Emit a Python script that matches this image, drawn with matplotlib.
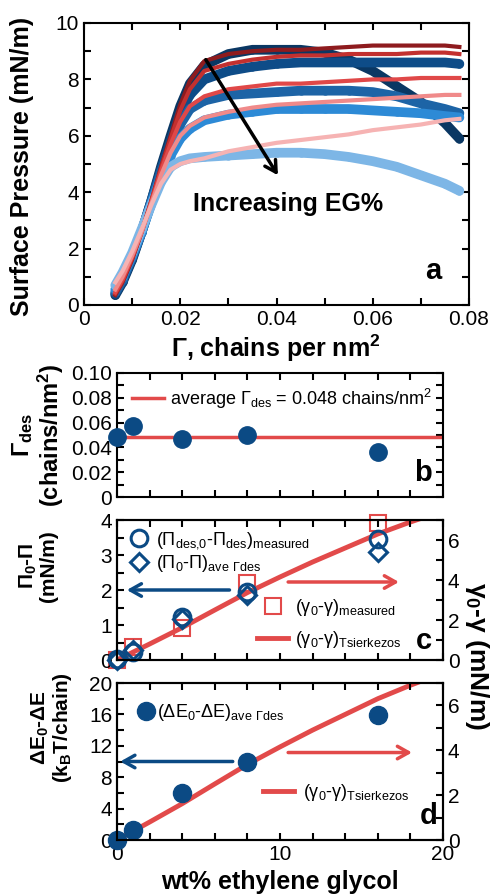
import matplotlib
matplotlib.use('Agg')
import matplotlib.pyplot as plt
from matplotlib.ticker import FixedLocator

plt.rcParams['font.family'] = ['Liberation Sans', 'DejaVu Sans']
plt.rcParams['mathtext.default'] = 'regular'
plt.rcParams['axes.linewidth'] = 1.5

# ---------------- Panel a data: surface pressure isotherms ----------------
gamma_x = [0.0065, 0.008, 0.010, 0.012, 0.014, 0.016, 0.018, 0.020, 0.022, 0.025,
           0.030, 0.035, 0.040, 0.045, 0.050, 0.055, 0.060, 0.065, 0.070, 0.075, 0.078]
blue1 = [0.35, 0.8, 1.6, 2.6, 3.7, 4.9, 6.0, 7.05, 7.85, 8.5, 8.9, 9.05, 9.05, 9.05, 8.95, 8.7, 8.3, 7.75, 7.2, 6.45, 5.9]
blue2 = [0.4, 0.85, 1.65, 2.6, 3.7, 4.8, 5.8, 6.8, 7.45, 8.0, 8.3, 8.45, 8.55, 8.6, 8.6, 8.6, 8.6, 8.6, 8.6, 8.6, 8.55]
blue3 = [0.45, 0.9, 1.7, 2.6, 3.65, 4.7, 5.6, 6.4, 6.95, 7.25, 7.45, 7.5, 7.55, 7.6, 7.6, 7.6, 7.55, 7.4, 7.15, 6.95, 6.8]
blue4 = [0.55, 1.0, 1.75, 2.6, 3.6, 4.55, 5.3, 5.9, 6.25, 6.55, 6.75, 6.85, 6.95, 6.95, 6.95, 6.95, 6.9, 6.85, 6.8, 6.7, 6.65]
blue5 = [0.7, 1.15, 1.85, 2.7, 3.55, 4.35, 4.9, 5.1, 5.2, 5.25, 5.3, 5.35, 5.4, 5.4, 5.35, 5.25, 5.1, 4.9, 4.6, 4.3, 4.05]
red1 = [0.35, 0.8, 1.6, 2.6, 3.7, 4.9, 6.0, 7.1, 7.95, 8.65, 8.9, 9.0, 9.05, 9.05, 9.1, 9.15, 9.2, 9.2, 9.2, 9.2, 9.15]
red2 = [0.4, 0.85, 1.65, 2.6, 3.7, 4.85, 5.9, 6.9, 7.65, 8.3, 8.55, 8.7, 8.8, 8.85, 8.85, 8.9, 8.9, 8.9, 8.95, 8.95, 8.9]
red3 = [0.45, 0.9, 1.7, 2.6, 3.65, 4.75, 5.7, 6.5, 7.05, 7.4, 7.65, 7.75, 7.85, 7.85, 7.9, 7.95, 8.0, 8.0, 8.05, 8.05, 8.05]
red4 = [0.55, 1.0, 1.75, 2.6, 3.6, 4.6, 5.4, 6.0, 6.35, 6.65, 6.85, 7.0, 7.1, 7.15, 7.2, 7.25, 7.3, 7.35, 7.4, 7.45, 7.45]
red5 = [0.8, 1.2, 1.9, 2.7, 3.55, 4.3, 4.8, 5.0, 5.1, 5.2, 5.45, 5.6, 5.75, 5.85, 5.95, 6.05, 6.2, 6.3, 6.4, 6.55, 6.6]

# ---------------- Panels b-d data ----------------
eg_wt = [0, 1, 4, 8, 16]
gamma_des = [0.048, 0.057, 0.047, 0.050, 0.036]
gamma_des_avg = 0.048
dpi_measured = [0.02, 0.22, 1.22, 1.93, 3.47]
dpi_ave = [0.0, 0.29, 1.16, 1.86, 3.09]
dgamma_measured = [0.0, 0.65, 1.6, 3.85, 6.85]
tsier_x = [0, 2, 4, 6, 8, 10, 12, 14, 16, 18, 20]
tsier_y = [0, 0.8, 1.62, 2.5, 3.37, 4.15, 4.9, 5.6, 6.3, 6.9, 7.45]
dE = [0.0, 1.3, 6.0, 10.0, 15.9]

NAVY = '#0b4a84'
RED = '#e24a4a'
blue_cols = ['#0a3763', '#0e4c88', '#1d64a6', '#2d8ad6', '#7db6e6']
red_cols = ['#8e1b1e', '#c3302f', '#e04848', '#f08a8a', '#f6b3b3']

W, H = 493, 896
fig = plt.figure(figsize=(W / 100, H / 100), dpi=100)


def rect(l, t, r, b):
    return [l / W, 1 - b / H, (r - l) / W, (b - t) / H]


TL = 15
tick_kw = dict(direction='in', length=5, width=1.5, labelsize=TL)
arrow_style = '->,head_length=0.8,head_width=0.45'

# ---------------- Panel a ----------------
axa = fig.add_axes(rect(84, 23, 469, 305))
for ys, c in zip([blue1, blue2, blue3, blue4, blue5], blue_cols):
    axa.plot(gamma_x, ys, color=c, lw=7, solid_capstyle='round', solid_joinstyle='round')
    axa.plot(gamma_x, ys, 'o', color=c, mfc='none', ms=5, mew=1)
for ys, c in zip([red1, red2, red3, red4, red5], red_cols):
    axa.plot(gamma_x, ys, color=c, lw=3)
axa.set_xlim(0, 0.08)
axa.set_ylim(0, 10)
xt = [0, 0.01, 0.02, 0.03, 0.04, 0.05, 0.06, 0.07, 0.08]
axa.xaxis.set_major_locator(FixedLocator(xt))
axa.set_xticklabels(['0', '', '0.02', '', '0.04', '', '0.06', '', '0.08'])
yt = list(range(11))
axa.yaxis.set_major_locator(FixedLocator(yt))
axa.set_yticklabels([str(v) if v % 2 == 0 else '' for v in yt])
axa.tick_params(top=True, right=True, **tick_kw)
axa.annotate('', xy=(0.0403, 4.6), xytext=(0.0253, 8.7),
             arrowprops=dict(arrowstyle=arrow_style, lw=2.5, color='black',
                             shrinkA=0, shrinkB=0))
axa.text(0.0226, 3.58, 'Increasing EG%', fontsize=18, fontweight='bold', ha='left', va='center')
axa.text(0.0726, 1.2, 'a', fontsize=21, fontweight='bold', ha='center', va='center')
fig.text(276 / W, 1 - 348 / H, 'Γ, chains per nm$^2$', fontsize=18, fontweight='bold',
         ha='center', va='center')
fig.text(22 / W, 1 - 166 / H, 'Surface Pressure (mN/m)', fontsize=18, fontweight='bold',
         ha='center', va='center', rotation=90)

# ---------------- Panel b ----------------
axb = fig.add_axes(rect(117, 373, 443, 497))
axb.axhline(gamma_des_avg, color=RED, lw=2.5,
            label='average Γ$_{des}$ = 0.048 chains/nm$^2$')
axb.plot(eg_wt, gamma_des, 'o', color=NAVY, ms=12.5, clip_on=False, zorder=3)
axb.set_xlim(0, 20)
axb.set_ylim(0, 0.10)
axb.xaxis.set_major_locator(FixedLocator(list(range(0, 21, 2))))
axb.set_xticklabels([])
ybt = [i / 100 for i in range(11)]
axb.yaxis.set_major_locator(FixedLocator(ybt))
axb.set_yticklabels(['0' if i == 0 else ('%.2f' % (i / 100) if i % 2 == 0 else '') for i in range(11)])
axb.tick_params(top=True, right=True, **tick_kw)
axb.legend(loc='upper left', bbox_to_anchor=(0.045, 0.89), frameon=False, fontsize=13,
           borderpad=0, borderaxespad=0, handlelength=1.8, handletextpad=0.3)
axb.text(18.8, 0.019, 'b', fontsize=21, fontweight='bold', ha='center', va='center')
fig.text(38 / W, 1 - 435 / H, 'Γ$_{des}$\n(chains/nm$^2$)', fontsize=17, fontweight='bold',
         ha='center', va='center', rotation=90, multialignment='center', linespacing=1.0)

# ---------------- Panel c ----------------
axc = fig.add_axes(rect(117, 520, 443, 660))
axc2 = axc.twinx()
axc.set_zorder(axc2.get_zorder() + 1)
axc.patch.set_visible(False)
axc2.plot(eg_wt, dgamma_measured, 's', color=RED, mfc='none', ms=11, mew=1.5, clip_on=False,
          label='(γ$_0$-γ)$_{measured}$')
axc2.plot(tsier_x, tsier_y, color=RED, lw=3.5, label='(γ$_0$-γ)$_{Tsierkezos}$')
axc.plot(eg_wt, dpi_measured, 'o', color=NAVY, mfc='none', ms=12, mew=2.2, clip_on=False,
         label='(Π$_{des{,}0}$-Π$_{des}$)$_{measured}$')
axc.plot(eg_wt, dpi_ave, 'D', color=NAVY, mfc='none', ms=9, mew=2.2, clip_on=False,
         label='(Π$_0$-Π)$_{ave\\ Γdes}$')
axc.set_xlim(0, 20)
axc.set_ylim(0, 4)
axc2.set_ylim(0, 7)
axc.xaxis.set_major_locator(FixedLocator(list(range(0, 21, 2))))
axc.set_xticklabels([])
yct = [i * 0.5 for i in range(9)]
axc.yaxis.set_major_locator(FixedLocator(yct))
axc.set_yticklabels([str(int(v)) if v == int(v) else '' for v in yct])
axc2.yaxis.set_major_locator(FixedLocator(list(range(8))))
axc2.set_yticklabels([str(v) if v % 2 == 0 else '' for v in range(8)])
axc.tick_params(top=True, **tick_kw)
axc2.tick_params(**tick_kw)
axc.annotate('', xy=(0.6, 2.0), xytext=(6.9, 2.0),
             arrowprops=dict(arrowstyle=arrow_style, lw=2.5, color=NAVY,
                             shrinkA=0, shrinkB=0))
axc2.annotate('', xy=(17.3, 3.9), xytext=(10.5, 3.9),
              arrowprops=dict(arrowstyle=arrow_style, lw=2.5, color=RED,
                              shrinkA=0, shrinkB=0))
axc.legend(loc='upper left', bbox_to_anchor=(0.04, 0.93), frameon=False, fontsize=13,
           borderpad=0, borderaxespad=0, handlelength=1.0, handletextpad=0.45, labelspacing=0.15)
axc2.legend(loc='upper left', bbox_to_anchor=(0.43, 0.45), frameon=False, fontsize=13,
            borderpad=0, borderaxespad=0, handlelength=1.7, handletextpad=0.4, labelspacing=0.6)
axc.text(18.8, 0.54, 'c', fontsize=21, fontweight='bold', ha='center', va='center')
fig.text(38 / W, 1 - 566 / H, 'Π$_0$-Π\n(mN/m)', fontsize=15, fontweight='bold',
         ha='center', va='center', rotation=90, multialignment='center', linespacing=1.0)

# ---------------- Panel d ----------------
axd = fig.add_axes(rect(117, 683, 443, 840))
axd2 = axd.twinx()
axd.set_zorder(axd2.get_zorder() + 1)
axd.patch.set_visible(False)
axd2.plot(tsier_x, tsier_y, color=RED, lw=3.5, label='(γ$_0$-γ)$_{Tsierkezos}$')
axd.plot(eg_wt, dE, 'o', color=NAVY, ms=13, clip_on=False,
         label='(ΔE$_0$-ΔE)$_{ave\\ Γdes}$')
axd.set_xlim(0, 20)
axd.set_ylim(0, 20)
axd2.set_ylim(0, 7)
axd.xaxis.set_major_locator(FixedLocator(list(range(0, 21, 2))))
axd.set_xticklabels([str(v) if v % 10 == 0 else '' for v in range(0, 21, 2)])
axd.yaxis.set_major_locator(FixedLocator(list(range(0, 21, 2))))
axd.set_yticklabels([str(v) if v % 4 == 0 else '' for v in range(0, 21, 2)])
axd2.yaxis.set_major_locator(FixedLocator(list(range(8))))
axd2.set_yticklabels([str(v) if v % 2 == 0 else '' for v in range(8)])
axd.tick_params(top=True, **tick_kw)
axd2.tick_params(**tick_kw)
axd.annotate('', xy=(0.2, 10.0), xytext=(7.1, 10.0),
             arrowprops=dict(arrowstyle=arrow_style, lw=2.5, color=NAVY,
                             shrinkA=0, shrinkB=0))
axd2.annotate('', xy=(18.1, 3.9), xytext=(10.5, 3.9),
              arrowprops=dict(arrowstyle=arrow_style, lw=2.5, color=RED,
                              shrinkA=0, shrinkB=0))
axd.legend(loc='upper left', bbox_to_anchor=(0.062, 0.88), frameon=False, fontsize=13,
           borderpad=0, borderaxespad=0, handlelength=1.0, handletextpad=0.1)
axd2.legend(loc='upper left', bbox_to_anchor=(0.448, 0.37), frameon=False, fontsize=13,
            borderpad=0, borderaxespad=0, handlelength=1.7, handletextpad=0.5)
axd.text(19.1, 3.06, 'd', fontsize=21, fontweight='bold', ha='center', va='center')
fig.text(52 / W, 1 - 728 / H, 'ΔE$_0$-ΔE\n(k$_B$T/chain)', fontsize=15, fontweight='bold',
         ha='center', va='center', rotation=90, multialignment='center', linespacing=1.0)
fig.text(280 / W, 1 - 882 / H, 'wt% ethylene glycol', fontsize=18, fontweight='bold',
         ha='center', va='center')
fig.text(477 / W, 1 - 656 / H, 'γ$_0$-γ (mN/m)', fontsize=19, fontweight='bold',
         ha='center', va='center', rotation=270)

fig.savefig('out.png', dpi=100)
